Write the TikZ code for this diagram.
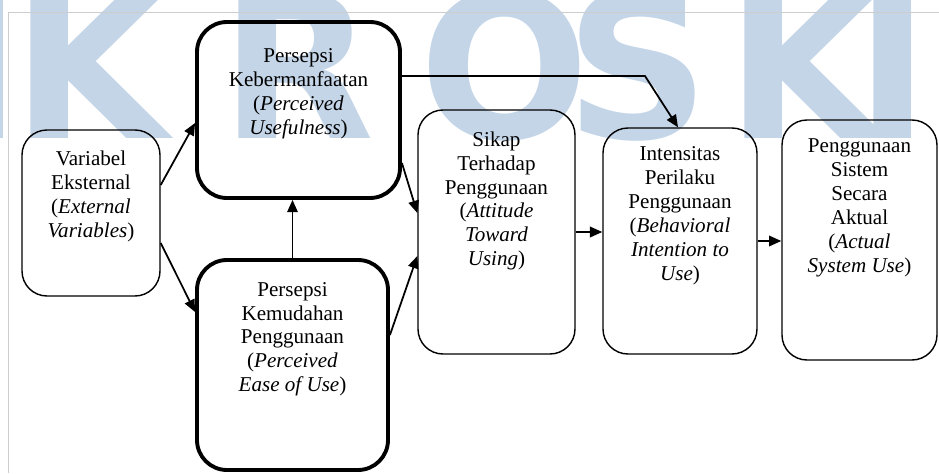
\documentclass[tikz,border=0pt]{standalone}
\usepackage{fontspec}
\setmainfont{Liberation Serif}
\newfontfamily\wmfont{DejaVu Sans}
\usetikzlibrary{positioning,arrows.meta}
\definecolor{wmblue}{RGB}{196,213,232}
\definecolor{framegray}{RGB}{205,205,205}

\tikzset{
  thinbox/.style={draw, line width=0.8pt, rounded corners=0.5cm, inner sep=0pt},
  thickbox/.style={draw, line width=2.2pt, rounded corners=0.6cm, inner sep=0pt},
  boxtext/.style={align=center, inner sep=0pt, font=\fontsize{12}{13.6}\selectfont},
  conn/.style={-{Triangle[length=7pt,width=6pt]}, line width=1pt},
  wmletter/.style={anchor=base, text=wmblue, inner sep=0pt,
    font=\wmfont\bfseries\fontsize{114}{114}\selectfont}
}

\begin{document}
\begin{tikzpicture}
\useasboundingbox (0,0) rectangle (18.78,-9.46);

% watermark letters behind everything
\begin{scope}
\clip (0,0) rectangle (18.78,-9.46);
\foreach \ch/\xc [count=\i] in {I/-0.3, K/1.8, R/5.95, O/10.1, S/12.75, K/16.08, I/17.86}
  \node[wmletter] (wm\i) at (\xc,-2.76) {\ch};
\end{scope}

% page frame
\draw[framegray, line width=0.5pt] (0.16,-9.46) -- (0.16,-0.24) -- (18.78,-0.24);

% boxes
\node[thinbox, minimum width=2.76cm, minimum height=3.32cm] (ext) at (1.82,-4.26) {};
\node[thickbox, minimum width=4.06cm, minimum height=3.52cm] (pu) at (5.97,-2.2) {};
\node[thickbox, minimum width=3.82cm, minimum height=4.2cm] (peou) at (5.85,-7.3) {};
\node[thinbox, minimum width=3.14cm, minimum height=4.88cm] (atu) at (9.93,-4.64) {};
\node[thinbox, minimum width=3.08cm, minimum height=4.52cm] (bi) at (13.6,-4.82) {};
\node[thinbox, minimum width=3.1cm, minimum height=4.8cm] (asu) at (17.19,-4.8) {};

% box texts
\node[boxtext, below=12pt of ext.north] (extT) {Variabel\\Eksternal\\(\textit{External}\\\textit{Variables})};
\node[boxtext, below=16pt of pu.north] (puT) {Persepsi\\Kebermanfaatan\\(\textit{Perceived}\\\textit{Usefulness})};
\node[boxtext, below=13.5pt of peou.north] (peouT) {Persepsi\\Kemudahan\\Penggunaan\\(\textit{Perceived}\\\textit{Ease of Use})};
\node[boxtext, below=12.5pt of atu.north] (atuT) {Sikap\\Terhadap\\Penggunaan\\(\textit{Attitude}\\\textit{Toward}\\\textit{Using})};
\node[boxtext, below=11pt of bi.north] (biT) {Intensitas\\Perilaku\\Penggunaan\\(\textit{Behavioral}\\\textit{Intention to}\\\textit{Use})};
\node[boxtext, below=11pt of asu.north] (asuT) {Penggunaan\\Sistem\\Secara\\Aktual\\(\textit{Actual}\\\textit{System Use})};

% connectors
\draw[conn] ([yshift=0.56cm]ext.east) -- ([yshift=-0.26cm]pu.west);
\draw[conn] ([yshift=-0.6cm]ext.east) -- ([yshift=1.06cm]peou.west);
\draw[conn] (peou.north) -- (peou.north |- pu.south);
\draw[conn] ([yshift=-1.06cm]pu.east) -- ([yshift=0.38cm]atu.west);
\draw[conn] ([yshift=0.6cm]peou.east) -- ([yshift=-0.48cm]atu.west);
\coordinate (bend) at (12.9,-1.52);
\draw[conn] ([yshift=0.68cm]pu.east) -- (bend) -- ([xshift=-0.04cm]bi.north);
\draw[conn] (atu.east) -- (atu.east -| bi.west);
\draw[conn] (bi.east) -- (bi.east -| asu.west);

\end{tikzpicture}
\end{document}
